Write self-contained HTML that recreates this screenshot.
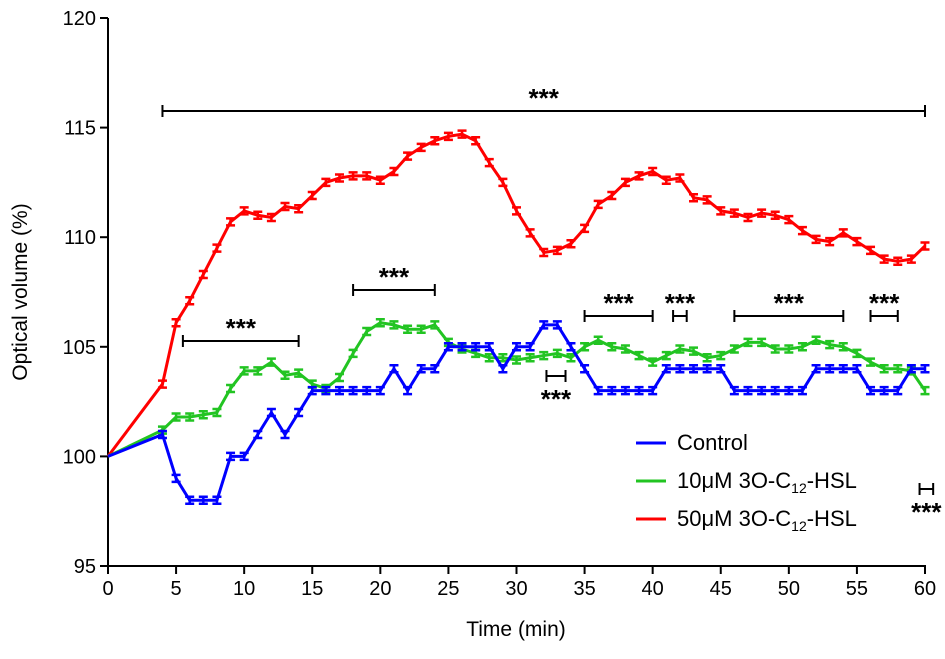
<!DOCTYPE html>
<html><head><meta charset="utf-8"><style>
body{margin:0;background:#fff}
text{font-family:"Liberation Sans",Arial,sans-serif}
</style></head><body>
<svg id="chart" width="945" height="654" viewBox="0 0 945 654" xmlns="http://www.w3.org/2000/svg">
<rect width="945" height="654" fill="#fff"/>
<g id="axes"></g>
<g id="series"></g>
<g id="sig"></g>
<g id="legend"></g>
</svg>
<script>
const times=[0,4,5,6,7,8,9,10,11,12,13,14,15,16,17,18,19,20,21,22,23,24,25,26,27,28,29,30,31,32,33,34,35,36,37,38,39,40,41,42,43,44,45,46,47,48,49,50,51,52,53,54,55,56,57,58,59,60];
const control=[100,101,99,98,98,98,100,100,101,102,101,102,103,103,103,103,103,103,104,103,104,104,105,105,105,105,104,105,105,106,106,105,104,103,103,103,103,103,104,104,104,104,104,103,103,103,103,103,103,104,104,104,104,103,103,103,104,104];
const low=[100,101.2,101.8,101.8,101.9,102.0,103.1,103.9,103.9,104.3,103.7,103.8,103.3,103.1,103.6,104.7,105.7,106.1,106.0,105.8,105.8,106.0,105.2,104.9,104.7,104.5,104.5,104.4,104.5,104.6,104.7,104.5,105.0,105.3,105.0,104.9,104.6,104.3,104.6,104.9,104.8,104.5,104.6,104.9,105.2,105.2,104.9,104.9,105.0,105.3,105.1,105.0,104.7,104.3,104.0,104.0,103.9,103.0];
const high=[100,103.3,106.1,107.1,108.3,109.5,110.7,111.2,111.0,110.9,111.4,111.3,111.9,112.5,112.7,112.8,112.8,112.6,113.0,113.7,114.1,114.4,114.6,114.7,114.4,113.4,112.5,111.2,110.2,109.3,109.4,109.7,110.4,111.5,111.9,112.5,112.8,113.0,112.6,112.7,111.8,111.7,111.2,111.1,110.9,111.1,111.0,110.8,110.3,109.9,109.8,110.2,109.8,109.4,109.0,108.9,109.0,109.6];
const xTicks=[0,5,10,15,20,25,30,35,40,45,50,55,60];
const yTicks=[95,100,105,110,115,120];
const sigRanges=[[4,60,'top'],[5.5,14,'top'],[18,24,'top'],[35,40,'top'],[41.5,42.5,'top'],[46,54,'top'],[56,58,'top'],[32.2,33.6,'bottom'],[59.6,60.6,'bottom']];
const sigY=[111,341,290,316,316,316,316,376,489];

const NS="http://www.w3.org/2000/svg";
const X0=108,X1=925,Y0=566,Y1=18;
const xs=t=>X0+(X1-X0)*t/60;
const ys=v=>Y0-(Y0-Y1)*(v-95)/25;
function mk(tag,attrs,parent,txt){const e=document.createElementNS(NS,tag);for(const k in attrs)e.setAttribute(k,attrs[k]);if(txt!==undefined)e.textContent=txt;parent.appendChild(e);return e;}
const ax=document.getElementById('axes');
let e=mk('line',{x1:X0,y1:Y1,x2:X0,y2:Y0+1,stroke:'#000','stroke-width':2},ax);

e=mk('line',{x1:X0-1,y1:Y0,x2:X1+1,y2:Y0,stroke:'#000','stroke-width':2},ax);

xTicks.forEach(t=>{mk('line',{x1:xs(t),y1:Y0,x2:xs(t),y2:Y0+8,stroke:'#000','stroke-width':2},ax);
 const l=mk('text',{x:xs(t),y:Y0+29,'text-anchor':'middle','font-size':20},ax,String(t));
 });
yTicks.forEach(v=>{mk('line',{x1:X0-8,y1:ys(v),x2:X0,y2:ys(v),stroke:'#000','stroke-width':2},ax);
 const l=mk('text',{x:X0-12,y:ys(v)+7,'text-anchor':'end','font-size':20},ax,String(v));
 });
e=mk('text',{x:516,y:636,'text-anchor':'middle','font-size':21},ax,'Time (min)');

e=mk('text',{x:0,y:0,transform:'translate(27,292) rotate(-90)','text-anchor':'middle','font-size':21},ax,'Optical volume (%)');


const sg=document.getElementById('series');
function drawSeries(vals,color,name){
 const g=mk('g',{},sg);
 
 mk('polyline',{points:vals.map((v,i)=>xs(times[i])+','+ys(v)).join(' '),fill:'none',stroke:color,'stroke-width':3},g);
 vals.forEach((v,i)=>{if(i===0)return;const x=xs(times[i]),y=ys(v),d=3.5;
  const p=mk('path',{d:`M${x-4.5},${y-d}H${x+4.5}M${x},${y-d}V${y+d}M${x-4.5},${y+d}H${x+4.5}`,stroke:color,'stroke-width':2.5,fill:'none'},g);
  });
}
drawSeries(high,'#ff0000','series-50um');
drawSeries(low,'#22c422','series-10um');
drawSeries(control,'#0000ff','series-control');

const sig=document.getElementById('sig');
sigRanges.forEach((r,i)=>{const x1=xs(r[0]),x2=xs(r[1]),y=sigY[i];
 const p=mk('path',{d:`M${x1},${y-6}V${y+6}M${x1},${y}H${x2}M${x2},${y-6}V${y+6}`,stroke:'#000','stroke-width':2,fill:'none'},sig);
 
 const ty=r[2]==='top'?y-4:y+32;
 const t=mk('text',{x:(x1+x2)/2,y:ty,'text-anchor':'middle','font-size':26,'font-weight':'bold'},sig,'***');
 });

const lg=document.getElementById('legend');
[['Control','#0000ff',443,''],['10μM 3O-C','#22c422',481,'12'],['50μM 3O-C','#ff0000',519,'12']].forEach(a=>{
 const g=mk('g',{},lg);
 
 mk('line',{x1:636,y1:a[2],x2:666,y2:a[2],stroke:a[1],'stroke-width':3},g);
 const t=mk('text',{x:677,y:a[2]+7,'font-size':22},g,a[0]);
 if(a[3]){mk('tspan',{'font-size':14,dy:5},t,a[3]);mk('tspan',{dy:-5},t,'-HSL');}
});
</script>
</body></html>
